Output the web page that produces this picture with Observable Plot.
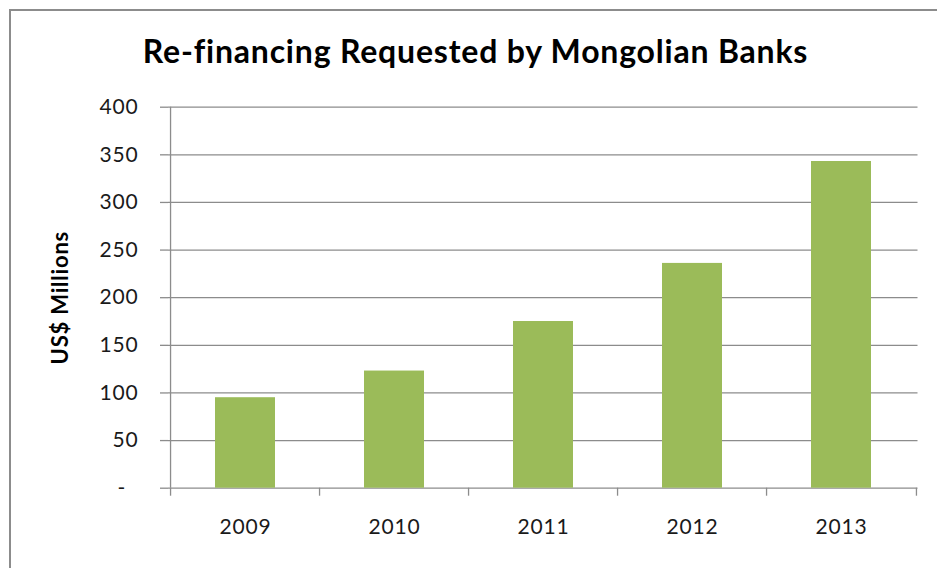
<!DOCTYPE html>
<html><head><meta charset="utf-8">
<script src="https://cdn.jsdelivr.net/npm/d3@7"></script>
<script src="https://cdn.jsdelivr.net/npm/@observablehq/plot@0.6"></script>
<style>
html,body{margin:0;padding:0;background:#fff;overflow:hidden}
#wrap{position:relative;width:937px;height:568px;font-family:Lato,sans-serif}
#frame{position:absolute;left:9px;top:9px;width:1000px;height:700px;border-left:2px solid #8c8c8c;border-top:2px solid #8c8c8c}
#title{position:absolute;left:0;top:32px;width:951px;text-align:center;font-size:32px;letter-spacing:0.8px;font-weight:bold;color:#000;line-height:1.2;white-space:nowrap}
#chart{position:absolute;left:0;top:90px}
</style></head>
<body>
<div id="wrap">
  <div id="frame"></div>
  <div id="title">Re-financing Requested by Mongolian Banks</div>
  <div id="chart"></div>
</div>
<script>
const years = ["2009", "2010", "2011", "2012", "2013"];
const values = [95, 123, 175, 236, 343];
const yTicks = [0, 50, 100, 150, 200, 250, 300, 350, 400];
const yLabel = "US$ Millions";

const data = years.map((y, i) => ({year: y, value: values[i]}));
const W = 937, H = 478, ml = 168, mr = 19.5, mt = 16.7, mb = 80.3;
const step = (W - ml - mr) / years.length;
const grey = "#8c8c8c";

const chart = Plot.plot({
  width: W, height: H,
  marginLeft: ml, marginRight: mr, marginTop: mt, marginBottom: mb,
  style: {fontFamily: "Lato, sans-serif", fontSize: "21px", letterSpacing: "0.8px", color: "#1a1a1a", background: "transparent"},
  x: {domain: years, paddingInner: 0.6, paddingOuter: 0.3, align: 0.5},
  y: {domain: [0, 400]},
  marks: [
    Plot.gridY(yTicks.slice(1), {stroke: grey, strokeOpacity: 1, strokeWidth: 1.3}),
    Plot.axisY(yTicks, {tickSize: 8, tickPadding: 22, tickFormat: d => d === 0 ? "-\u00a0\u00a0" : String(d), stroke: grey, strokeOpacity: 1, strokeWidth: 1.3, label: null}),
    Plot.axisX(years, {tickSize: 8, tickFormat: () => "", dx: -step / 2, stroke: grey, strokeOpacity: 1, strokeWidth: 1.3, label: null}),
    Plot.axisX([years[years.length - 1]], {tickSize: 8, tickFormat: () => "", dx: step / 2, stroke: grey, strokeOpacity: 1, strokeWidth: 1.3, label: null}),
    Plot.axisX(years, {tickSize: 0, tickPadding: 31, label: null}),
    Plot.ruleX([years[0]], {x: d => d, y1: 0, y2: 400, dx: -step / 2, stroke: grey, strokeWidth: 1.3}),
    Plot.ruleY([0], {stroke: grey, strokeWidth: 1.3}),
    Plot.barY(data, {x: "year", y: "value", fill: "#9BBB59"}),
    Plot.text([yLabel], {frameAnchor: "left", textAnchor: "middle", dx: -108, rotate: -90, fontWeight: "bold", fontSize: 22, fill: "#000"})
  ]
});
document.getElementById("chart").appendChild(chart);
</script>
</body></html>
